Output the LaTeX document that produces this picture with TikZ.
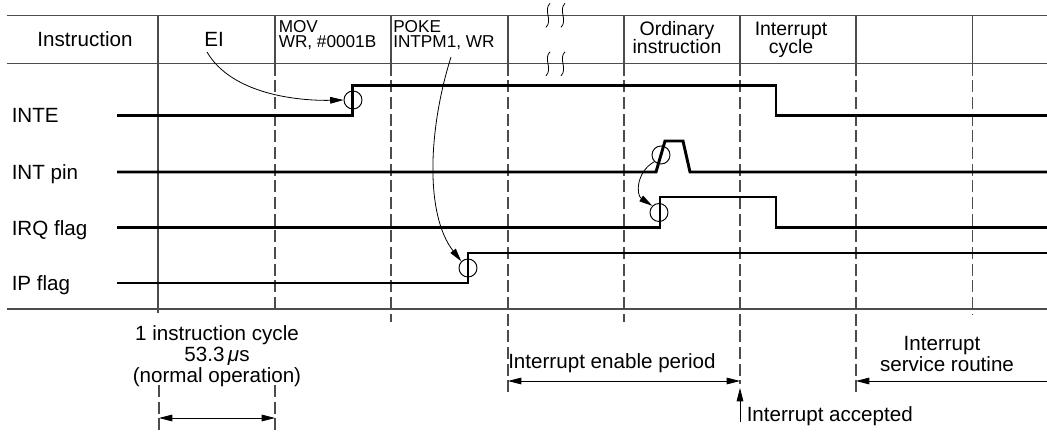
\documentclass[tikz,border=0pt]{standalone}
\usepackage{fontspec}
\setmainfont{Liberation Sans}
\usetikzlibrary{arrows.meta}
\begin{document}
\begin{tikzpicture}[x=0.75pt,y=-0.75pt,
  grid/.style={draw=black!70, line width=0.8pt},
  dashv/.style={draw=black!70, line width=0.8pt, dash pattern=on 9pt off 3.5pt},
  sig/.style={draw=black, line width=2.2pt, line join=miter},
  ring/.style={circle, draw=black, line width=0.7pt, minimum size=13.5pt, inner sep=0pt},
  callout/.style={draw=black, line width=0.6pt, -{Triangle[length=10pt,width=5pt]}},
  dimarrow/.style={draw=black, line width=0.6pt, {Triangle[length=10pt,width=5pt]}-{Triangle[length=10pt,width=5pt]}},
  onearrow/.style={draw=black, line width=0.6pt, -{Triangle[length=10pt,width=5pt]}},
  txt/.style={inner sep=0pt, anchor=base, font=\fontsize{15.45}{18}\selectfont},
  txtw/.style={inner sep=0pt, anchor=base west, font=\fontsize{15.45}{18}\selectfont},
  hdr/.style={inner sep=0pt, anchor=base, font=\fontsize{14.6}{18}\selectfont},
  small/.style={inner sep=0pt, anchor=base west, font=\fontsize{12.9}{15}\selectfont},
]
\useasboundingbox (0,0) rectangle (1047,433);

% horizontal frame lines
\draw[grid] (7,15.3) -- (1047,15.3);
\draw[grid] (7,63.8) -- (1047,63.8);
\draw[grid] (7,309) -- (1047,309);

% column lines
\draw[grid] (158,15.3) -- (158,313);
\foreach \cx in {275,391,508,624,740,856,972.6}
  \draw[grid] (\cx,15.3) -- (\cx,63.8);
\draw[dashv] (275,63.8) -- (275,313);
\draw[dashv] (391,63.8) -- (391,322);
\draw[dashv] (508,63.8) -- (508,397);
\draw[dashv] (624,63.8) -- (624,322);
\draw[dashv] (740,63.8) -- (740,384);
\draw[dashv] (856,63.8) -- (856,397);
\draw[dashv] (972.6,63.8) -- (972.6,314);
\draw[dashv] (159,385) -- (159,433);
\draw[dashv] (275,385) -- (275,433);

% break marks
\foreach \bx in {548,563}
  \foreach \by in {15.3,63.8}
    \draw[black, line width=0.6pt] ({\bx+2},{\by-12}) .. controls ({\bx-5},{\by-5}) and ({\bx+5},{\by+5}) .. ({\bx-2},{\by+12});

% header texts
\node[txt] (hInstr) at (85,46.7) {Instruction};
\node[txt] (hEI) at (214,46.7) {EI};
\node[small] (hMov1) at (278.5,32.3) {MOV};
\node[small] (hMov2) at (278.5,47.5) {WR, \#0001B};
\node[small] (hPoke1) at (393,32.3) {POKE};
\node[small] (hPoke2) at (393,47.5) {INTPM1, WR};
\node[hdr] (hOrd1) at (677,35) {Ordinary};
\node[hdr] (hOrd2) at (677,53) {instruction};
\node[hdr] (hInt1) at (791,35) {Interrupt};
\node[hdr] (hInt2) at (791,53) {cycle};

% signal labels
\node[txtw] (lInte) at (11.5,122.5) {INTE};
\node[txtw] (lInt) at (11.5,179.5) {INT pin};
\node[txtw] (lIrq) at (11.5,235) {IRQ flag};
\node[txtw] (lIp) at (11.5,290.5) {IP flag};

% signals
\draw[sig] (117,115.5) -- (352.5,115.5) -- (352.5,85.3) -- (776,85.3) -- (776,115.5) -- (1047,115.5);
\draw[sig] (117,172) -- (656,172) -- (665,141) -- (683,141) -- (690,172) -- (1047,172);
\draw[sig] (117,227.3) -- (660,227.3) -- (660,197) -- (776,197) -- (776,227.3) -- (1047,227.3);
\draw[sig] (117,283) -- (468,283) -- (468,253) -- (1047,253);

% rings
\node[ring] (c1) at (353,100) {};
\node[ring] (c2) at (661,155) {};
\node[ring] (c3) at (659,212.5) {};
\node[ring] (c4) at (468,268) {};

% callout arrows
\coordinate (eiStart) at (207,52);
\coordinate (pokeStart) at (451,57);
\draw[callout] (eiStart) .. controls (232,95) and (300,101) .. (c1.west);
\draw[callout] (pokeStart) .. controls (428,130) and (425,215) .. (c4.135);
\draw[callout] (c2.225) .. controls (636,172) and (636,195) .. (c3.135);

% bottom annotations
\node[txt] (bCyc1) at (217,340) {1 instruction cycle};
\node[txt] (bCyc2) at (217,361) {53.3\,{\itshape μ}s};
\node[txt] (bCyc3) at (217,382) {(normal operation)};
\coordinate (cycL) at (159,418);
\coordinate (cycR) at (275,418);
\draw[dimarrow] (cycL) -- (cycR);

\node[txtw] (bEnable) at (508,368) {Interrupt enable period};
\coordinate (enL) at (508,381);
\coordinate (enR) at (740,381);
\draw[dimarrow] (enL) -- (enR);

\coordinate (accBot) at (740,422);
\coordinate (accTop) at (740,388);
\draw[onearrow] (accBot) -- (accTop);
\node[txtw] (bAcc) at (746.5,421.7) {Interrupt accepted};

\node[txt] (bIsr1) at (942,350) {Interrupt};
\node[txt] (bIsr2) at (947,371.7) {service routine};
\coordinate (isrR) at (1047,381);
\coordinate (isrL) at (856,381);
\draw[onearrow] (isrR) -- (isrL);
\end{tikzpicture}
\end{document}
